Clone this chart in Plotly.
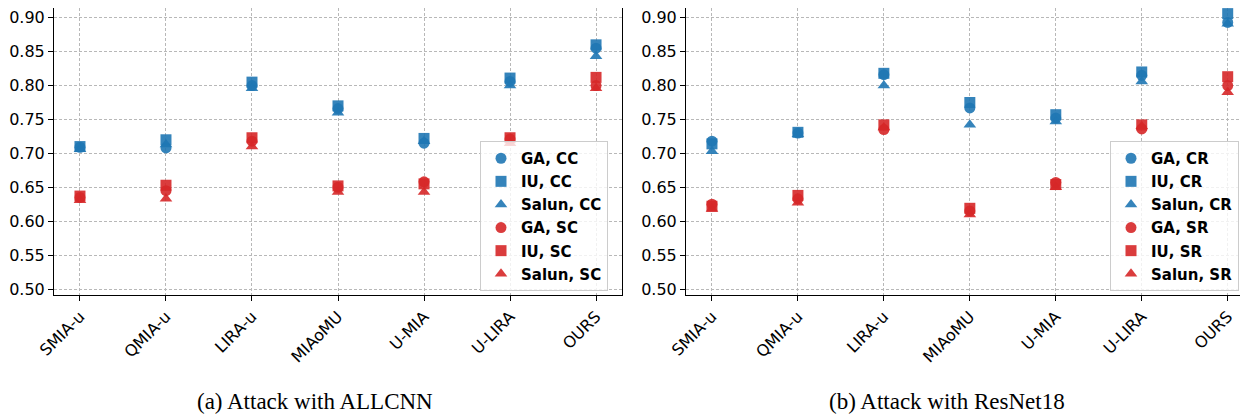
import plotly.graph_objects as go

methods = ["SMIA-u", "QMIA-u", "LIRA-u", "MIAoMU", "U-MIA", "U-LIRA", "OURS"]
y_ticks = [0.50, 0.55, 0.60, 0.65, 0.70, 0.75, 0.80, 0.85, 0.90]

# (a) Attack with ALLCNN
ga_cc = [0.709, 0.708, 0.800, 0.766, 0.715, 0.806, 0.855]
iu_cc = [0.710, 0.720, 0.805, 0.770, 0.722, 0.811, 0.860]
salun_cc = [0.706, 0.713, 0.796, 0.760, 0.718, 0.800, 0.843]
ga_sc = [0.635, 0.645, 0.718, 0.650, 0.658, 0.721, 0.800]
iu_sc = [0.637, 0.653, 0.723, 0.652, 0.655, 0.723, 0.812]
salun_sc = [0.631, 0.633, 0.710, 0.643, 0.643, 0.715, 0.796]

# (b) Attack with ResNet18
ga_cr = [0.718, 0.730, 0.816, 0.767, 0.752, 0.815, 0.893]
iu_cr = [0.714, 0.731, 0.818, 0.775, 0.757, 0.820, 0.906]
salun_cr = [0.703, 0.728, 0.800, 0.742, 0.747, 0.806, 0.891]
ga_sr = [0.625, 0.633, 0.735, 0.615, 0.657, 0.736, 0.800]
iu_sr = [0.622, 0.638, 0.742, 0.619, 0.654, 0.742, 0.813]
salun_sr = [0.618, 0.627, 0.738, 0.610, 0.650, 0.740, 0.790]

BLUE = "#1f77b4"
RED = "#d62728"

# the page body has an 8px margin, so the figure is drawn 8px in from the window corner
OFF = 8
W, H = 1248 - OFF, 417 - OFF


def px(x):
    return (x - OFF) / W


def py(y):
    return (H - (y - OFF)) / H


xs = list(range(len(methods)))
fig = go.Figure()

panels = [
    ("x", "y", "legend", [
        ("GA, CC", ga_cc, BLUE, "circle"),
        ("IU, CC", iu_cc, BLUE, "square"),
        ("Salun, CC", salun_cc, BLUE, "triangle-up"),
        ("GA, SC", ga_sc, RED, "circle"),
        ("IU, SC", iu_sc, RED, "square"),
        ("Salun, SC", salun_sc, RED, "triangle-up"),
    ]),
    ("x2", "y2", "legend2", [
        ("GA, CR", ga_cr, BLUE, "circle"),
        ("IU, CR", iu_cr, BLUE, "square"),
        ("Salun, CR", salun_cr, BLUE, "triangle-up"),
        ("GA, SR", ga_sr, RED, "circle"),
        ("IU, SR", iu_sr, RED, "square"),
        ("Salun, SR", salun_sr, RED, "triangle-up"),
    ]),
]

for xa, ya, lg, series in panels:
    for i, (name, vals, col, sym) in enumerate(series):
        fig.add_trace(go.Scatter(
            x=xs, y=vals, mode="markers", name=name,
            xaxis=xa, yaxis=ya, legend=lg, legendgroup=lg + str(i),
            marker=dict(color=col, symbol=sym, size=11, opacity=0.9,
                        line=dict(width=0)),
        ))

ydom = [py(295), py(4.7) if py(4.7) <= 1 else 1.0]
axis_common = dict(
    showline=True, linecolor="black", linewidth=1, mirror=True,
    ticks="outside", ticklen=5, tickcolor="black", automargin=False,
    showgrid=True, gridcolor="#b8b8b8", gridwidth=0.8, griddash="3px,2px",
    zeroline=False, tickfont=dict(family="DejaVu Sans", size=16, color="black"),
)
legend_common = dict(
    xanchor="left", yanchor="top",
    bgcolor="rgba(255,255,255,0.8)", bordercolor="#cccccc", borderwidth=1,
    font=dict(family="DejaVu Sans", size=15, color="black", weight="bold"),
    tracegroupgap=0.6,
)

# top of plot area at y=4.7 lies above the figure's top (8px); clip range accordingly
y_top_px = max(4.7, OFF)
y_per_px = (0.90 - 0.50) / (289 - 17.7)
y_hi = 0.90 + (17.7 - y_top_px) * y_per_px
y_lo = 0.50 - (295 - 289) * y_per_px
ydom = [py(295), py(y_top_px)]

right_px = 1248
x2_hi = (right_px - 712) / 85.95

fig.update_layout(
    width=W, height=H, margin=dict(l=0, r=0, t=0, b=0, autoexpand=False),
    plot_bgcolor="white", paper_bgcolor="white",
    xaxis=dict(domain=[px(54), px(622)], range=[-0.302, 6.302],
               tickvals=xs, ticktext=methods, tickangle=-45, anchor="y", **axis_common),
    yaxis=dict(domain=ydom, range=[y_lo, y_hi], tickvals=y_ticks,
               tickformat=".2f", anchor="x", **axis_common),
    xaxis2=dict(domain=[px(686), px(right_px)], range=[-0.302, x2_hi],
                tickvals=xs, ticktext=methods, tickangle=-45, anchor="y2", **axis_common),
    yaxis2=dict(domain=ydom, range=[y_lo, y_hi], tickvals=y_ticks,
                tickformat=".2f", anchor="x2", **axis_common),
    legend=dict(x=px(480), y=py(141), **legend_common),
    legend2=dict(x=px(1110), y=py(141), **legend_common),
    showlegend=True,
    annotations=[
        dict(text="(a) Attack with ALLCNN", x=px(314.5), y=py(401),
             xref="paper", yref="paper", showarrow=False, xanchor="center", yanchor="middle",
             font=dict(family="Liberation Serif", size=23, color="black")),
        dict(text="(b) Attack with ResNet18", x=px(946.5), y=py(401),
             xref="paper", yref="paper", showarrow=False, xanchor="center", yanchor="middle",
             font=dict(family="Liberation Serif", size=23, color="black")),
    ],
)

fig.write_html("out.html")
